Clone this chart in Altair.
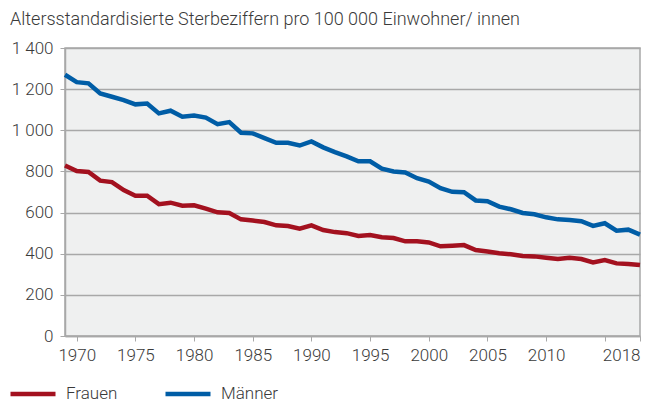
import altair as alt
import pandas as pd

years = list(range(1969, 2019))
frauen = [829, 802, 797, 755, 748, 709, 682, 682, 641, 648,
          633, 635, 619, 601, 598, 567, 561, 554, 538, 535,
          522, 538, 515, 505, 500, 486, 491, 480, 476, 460,
          460, 455, 436, 439, 442, 418, 411, 402, 397, 389,
          387, 380, 374, 380, 374, 358, 369, 353, 350, 345]
maenner = [1270, 1234, 1228, 1179, 1163, 1147, 1126, 1130, 1082, 1095,
           1066, 1072, 1062, 1030, 1040, 988, 985, 962, 939, 939,
           926, 946, 917, 894, 873, 849, 849, 813, 800, 795,
           767, 751, 719, 701, 699, 659, 655, 629, 616, 598,
           592, 577, 567, 564, 558, 535, 548, 512, 517, 493]
series = ["Frauen", "Männer"]
colors = ["#a3111f", "#005da6"]
x_ticks = [1970, 1975, 1980, 1985, 1990, 1995, 2000, 2005, 2010, 2015, 2018]
y_ticks = [0, 200, 400, 600, 800, 1000, 1200, 1400]
title = "Altersstandardisierte Sterbeziffern pro 100 000 Einwohner/ innen"

df = pd.DataFrame({
    "Jahr": years * 2,
    "Wert": frauen + maenner,
    "Geschlecht": [series[0]] * len(years) + [series[1]] * len(years),
})

FONT = "Roboto"
FW = 300
FS = 17
TXT = "#3a3a3a"
GRID = "#a8a8a8"

chart = alt.Chart(df).mark_line(strokeWidth=4.5, strokeJoin="miter").encode(
    x=alt.X("Jahr:Q",
            scale=alt.Scale(domain=[1969, 2018], nice=False, zero=False),
            axis=alt.Axis(values=x_ticks, title=None, grid=False,
                          labelExpr="datum.value == 2015 ? '' : datum.value",
                          labelFont=FONT, labelFontSize=FS, labelFontWeight=FW,
                          labelColor=TXT,
                          labelPadding=6, tickSize=5, tickColor=GRID,
                          domainColor=GRID, domainWidth=1.5, labelFlush=True)),
    y=alt.Y("Wert:Q",
            scale=alt.Scale(domain=[0, 1400], nice=False),
            axis=alt.Axis(values=y_ticks, title=None, grid=True,
                          gridColor=GRID, gridWidth=1.3, gridOpacity=1,
                          labelExpr="replace(format(datum.value, ','), ',', ' ')",
                          labelFont=FONT, labelFontSize=FS, labelFontWeight=FW,
                          labelColor=TXT,
                          labelPadding=7, tickSize=5, tickColor=GRID,
                          domainColor=GRID, domainWidth=1.5)),
    color=alt.Color("Geschlecht:N",
                    scale=alt.Scale(domain=series, range=colors),
                    legend=alt.Legend(title=None, orient="none",
                                      legendX=-57, legendY=321,
                                      direction="horizontal",
                                      symbolType="stroke", symbolSize=2025,
                                      symbolStrokeWidth=4.5,
                                      labelFont=FONT, labelFontSize=FS,
                                      labelFontWeight=FW,
                                      labelColor=TXT, labelOffset=8,
                                      columnPadding=38)),
).properties(
    width=575,
    height=288,
    title=alt.TitleParams(title, anchor="start", frame="group", dx=-55, dy=-6,
                          font=FONT, fontSize=18, fontWeight=FW,
                          color=TXT),
    padding={"left": 57, "top": 40, "right": 7, "bottom": 67},
    autosize=alt.AutoSizeParams(type="none"),
).configure_view(
    fill="#eff0f0", stroke=GRID, strokeWidth=1.5
)

chart.save("out.html", embed_options={"renderer": "svg", "actions": False})
